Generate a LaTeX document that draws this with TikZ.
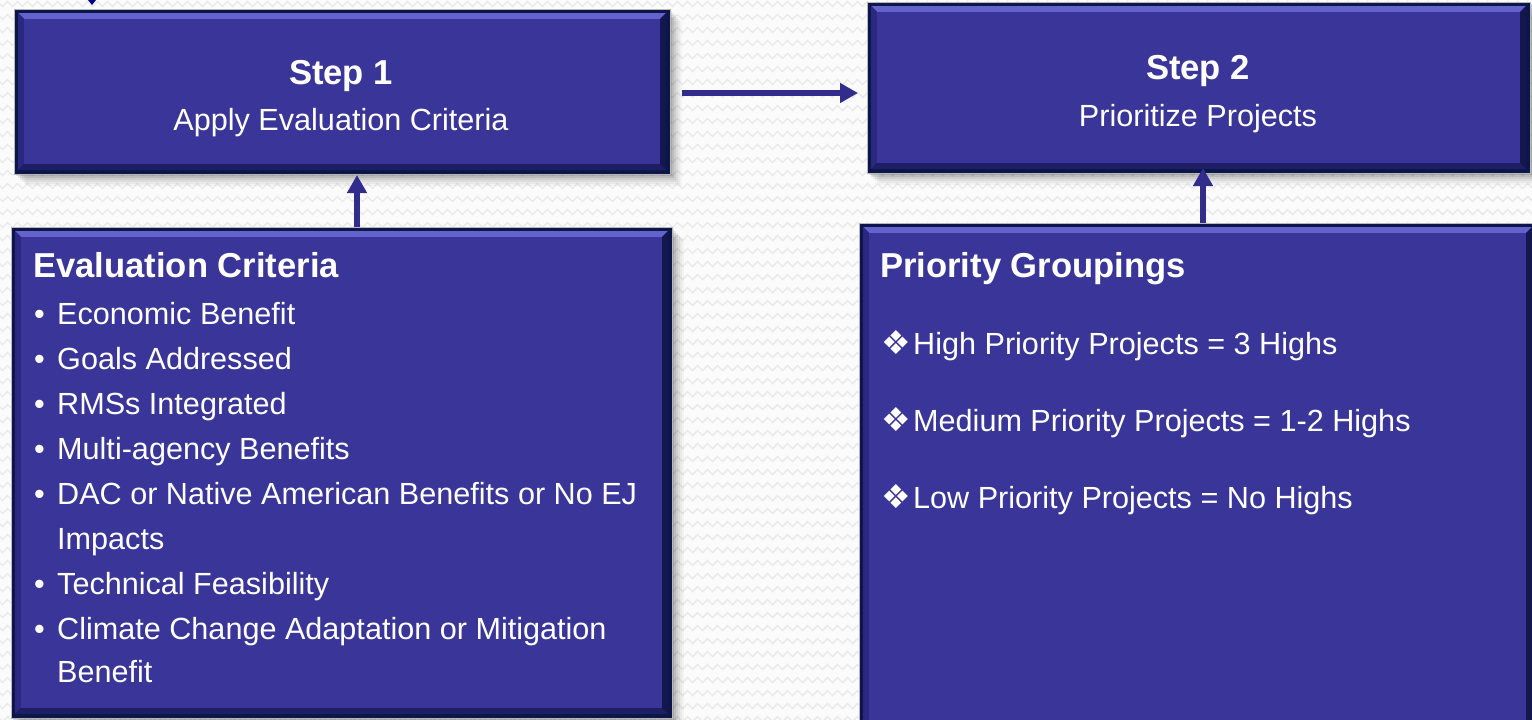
\documentclass[tikz,border=0pt]{standalone}
\usepackage{fontspec}
\setmainfont{Liberation Sans}
\newfontfamily\dejavu{DejaVu Sans}
\usetikzlibrary{arrows.meta,calc,decorations.pathmorphing}
\definecolor{bgc}{RGB}{251,251,251}
\definecolor{zigc}{RGB}{233,233,233}
\definecolor{fillc}{RGB}{58,54,153}
\definecolor{edgec}{RGB}{12,22,72}
\definecolor{topc}{RGB}{100,98,205}
\definecolor{leftc}{RGB}{42,40,128}
\definecolor{rightc}{RGB}{20,22,78}
\definecolor{botc}{RGB}{30,30,100}
\definecolor{arrc}{RGB}{50,45,140}
\newcommand\bevelbox[1]{%
  \foreach \o/\op in {2/0.10,4/0.08,6/0.07,8/0.05,10/0.04,12/0.03}{%
    \fill[black,opacity=\op] ($(#1.north west)+(\o,\o)$) rectangle ($(#1.south east)+(\o,\o)$);}
  \fill[edgec] (#1.north west) rectangle (#1.south east);
  \fill[topc] ($(#1.north west)+(4,4)$) -- ($(#1.north east)+(-4,4)$) -- ($(#1.north east)+(-10,10)$) -- ($(#1.north west)+(10,10)$) -- cycle;
  \fill[leftc] ($(#1.north west)+(4,4)$) -- ($(#1.north west)+(10,10)$) -- ($(#1.south west)+(10,-10)$) -- ($(#1.south west)+(4,-4)$) -- cycle;
  \fill[rightc] ($(#1.north east)+(-4,4)$) -- ($(#1.north east)+(-10,10)$) -- ($(#1.south east)+(-10,-10)$) -- ($(#1.south east)+(-4,-4)$) -- cycle;
  \fill[botc] ($(#1.south west)+(4,-4)$) -- ($(#1.south west)+(10,-10)$) -- ($(#1.south east)+(-10,-10)$) -- ($(#1.south east)+(-4,-4)$) -- cycle;
  \fill[fillc] ($(#1.north west)+(10,10)$) rectangle ($(#1.south east)+(-10,-10)$);
  \draw[gray!55,line width=0.8pt] (#1.north west) rectangle (#1.south east);
}
\tikzset{
  boxshape/.style={rectangle,inner sep=0pt,outer sep=0pt},
  head/.style={anchor=base,text=white,font=\bfseries\fontsize{34.6}{40}\selectfont,inner sep=0pt},
  sub/.style={anchor=base,text=white,font=\fontsize{30.6}{40}\selectfont,inner sep=0pt},
  lhead/.style={anchor=base west,text=white,font=\bfseries\fontsize{34.6}{40}\selectfont,inner sep=0pt},
  item/.style={anchor=base west,text=white,font=\fontsize{30.6}{40}\selectfont,inner sep=0pt},
  dia/.style={anchor=base west,text=white,font=\dejavu\fontsize{33}{40}\selectfont,inner sep=0pt},
  arr/.style={draw=arrc,line width=5.5pt,-{Triangle[length=18pt,width=19pt]}}
}
\begin{document}
\begin{tikzpicture}[x=1pt,y=-1pt]
\useasboundingbox (0,0) rectangle (1532,720);
\fill[bgc] (0,0) rectangle (1532,720);
\foreach \yy in {4,17,...,720}{
  \draw[zigc,line width=1.4pt,decorate,decoration={zigzag,segment length=10pt,amplitude=2.5pt}] (-5,\yy) -- (1540,\yy);
}
\fill[blue!55!black] (88,0) -- (96,0) -- (92,5) -- cycle;
% box shapes
\node[boxshape,minimum width=656pt,minimum height=165pt] (s1) at (342,91.5) {};
\node[boxshape,minimum width=663pt,minimum height=171pt] (s2) at (1198.5,87.5) {};
\node[boxshape,minimum width=661pt,minimum height=491pt] (ec) at (341.5,472.5) {};
\node[boxshape,minimum width=677pt,minimum height=520pt] (pg) at (1197.5,483) {};
\bevelbox{s1}
\bevelbox{s2}
\bevelbox{ec}
\bevelbox{pg}
% step texts
\node[head] (s1h) at (341,84) {Step 1};
\node[sub] (s1t) at (341,130) {Apply Evaluation Criteria};
\node[head] (s2h) at (1198,79) {Step 2};
\node[sub] (s2t) at (1198,126) {Prioritize Projects};
% evaluation criteria
\node[lhead] (ech) at (33,277) {Evaluation Criteria};
\foreach \n/\yy/\t in {1/324/Economic Benefit,2/369/Goals Addressed,3/414/RMSs Integrated,4/459/Multi-agency Benefits,5/504/DAC or Native American Benefits or No EJ,7/594/Technical Feasibility,8/639/Climate Change Adaptation or Mitigation}{
  \node[item] (eb\n) at (34,\yy) {\textbullet};
  \node[item] (et\n) at (57,\yy) {\t};
}
\node[item] (et6) at (57,549) {Impacts};
\node[item] (et9) at (57,682) {Benefit};
% priority groupings
\node[lhead] (pgh) at (880,277) {Priority Groupings};
\foreach \n/\yy/\t in {1/354/High Priority Projects = 3 Highs,2/431/Medium Priority Projects = 1-2 Highs,3/508/Low Priority Projects = No Highs}{
  \node[dia] (pd\n) at (881,\yy) {❖};
  \node[item] (pt\n) at (913,\yy) {\t};
}
% connectors
\draw[arr] ($(s1.east)+(12,1.5)$) -- ($(s2.west |- s1.east)+(-9,1.5)$);
\draw[arr] ($(ec.north west)+(346,0)$) -- ($(s1.south west)+(343,1)$);
\draw[arr] ($(pg.north west)+(344,0)$) -- ($(s2.south west)+(336,-5)$);
\end{tikzpicture}
\end{document}
